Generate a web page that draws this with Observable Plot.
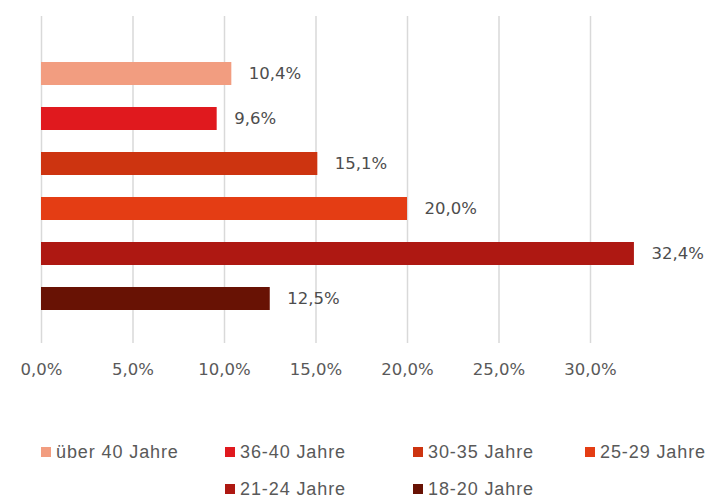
<!DOCTYPE html>
<html>
<head>
<meta charset="utf-8">
<script src="https://cdn.jsdelivr.net/npm/d3@7"></script>
<script src="https://cdn.jsdelivr.net/npm/@observablehq/plot@0.6"></script>
<style>
  html, body { margin: 0; padding: 0; background: #fff; }
  #wrap { position: relative; width: 706px; height: 498px; overflow: hidden; }
  #legend {
    position: absolute; left: 41px; top: 440px;
    display: grid; grid-template-columns: 184px 188px 172px 130px;
    grid-auto-rows: 37px;
    font-family: "Liberation Sans", Arial, sans-serif; font-size: 18px;
    letter-spacing: 0.9px; color: #595959;
  }
  .item { display: flex; align-items: center; height: 24px; white-space: nowrap; }
  .sw { width: 10px; height: 10px; margin-right: 5px; flex: none; }
</style>
</head>
<body>
<div id="wrap">
  <div id="chart"></div>
  <div id="legend"></div>
</div>
<script>
const categories = ["über 40 Jahre", "36-40 Jahre", "30-35 Jahre", "25-29 Jahre", "21-24 Jahre", "18-20 Jahre"];
const values = [0.104, 0.096, 0.151, 0.200, 0.324, 0.125];
const colors = ["#F29D80", "#E0191E", "#CD3410", "#E43D14", "#AE1812", "#681204"];
const xTicks = [0, 0.05, 0.10, 0.15, 0.20, 0.25, 0.30];

const data = categories.map((c, i) => ({category: c, value: values[i]}));
const fmt = d => (d * 100).toFixed(1).replace(".", ",") + "%";
const font = "'DejaVu Sans', sans-serif";

const chart = Plot.plot({
  width: 706,
  height: 400,
  marginLeft: 41,
  marginRight: 24.5,
  marginTop: 16,
  marginBottom: 57,
  style: {fontFamily: font, background: "white", overflow: "visible"},
  x: {domain: [0, 0.35]},
  y: {domain: categories, range: [49.9, 321.3], paddingInner: 0.49, paddingOuter: 0.245, axis: null},
  color: {domain: categories, range: colors},
  marks: [
    Plot.ruleX(xTicks, {stroke: "#d9d9d9", strokeWidth: 1.5}),
    Plot.barX(data, {x: "value", y: "category", fill: "category"}),
    Plot.text(data, {x: "value", y: "category", text: d => fmt(d.value), dx: 17, textAnchor: "start", fill: "#4d4d4d", fontSize: 16.5}),
    Plot.axisX({ticks: xTicks, tickFormat: fmt, tickSize: 0, tickPadding: 20, fontSize: 16.5, color: "#595959", label: null})
  ]
});
document.getElementById("chart").appendChild(chart);

const legend = document.getElementById("legend");
categories.forEach((c, i) => {
  const it = document.createElement("div");
  it.className = "item";
  if (i === 4) it.style.gridColumn = "2";
  if (i === 5) it.style.gridColumn = "3";
  const sw = document.createElement("span");
  sw.className = "sw";
  sw.style.background = colors[i];
  const tx = document.createElement("span");
  tx.textContent = c;
  it.appendChild(sw); it.appendChild(tx);
  legend.appendChild(it);
});
</script>
</body>
</html>
